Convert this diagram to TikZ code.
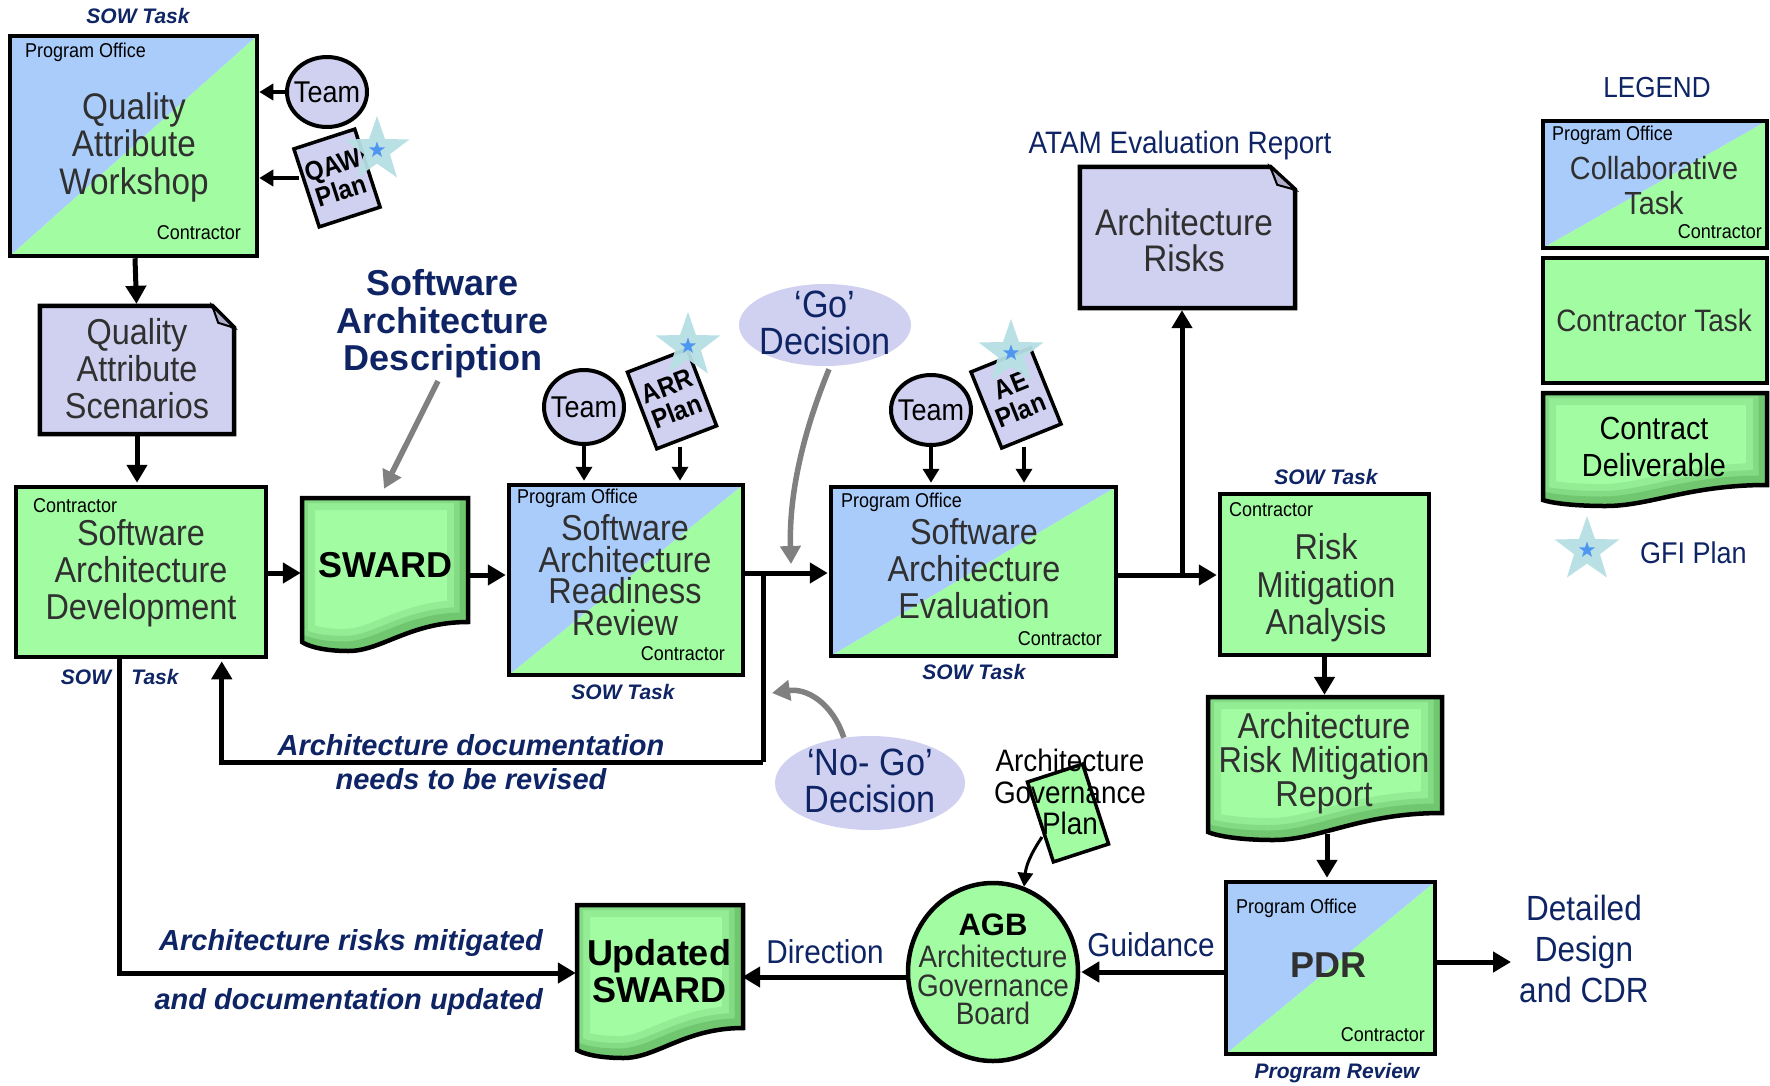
\documentclass[tikz,border=0pt]{standalone}
\usepackage{fontspec}
\setmainfont{Liberation Sans}
\newfontfamily\nf[FakeStretch=0.9]{Liberation Sans}
\newfontfamily\af{Liberation Sans}
\usetikzlibrary{arrows.meta,shapes.geometric,calc}

\definecolor{poblue}{RGB}{170,204,250}
\definecolor{ctgreen}{RGB}{162,252,162}
\definecolor{lav}{RGB}{208,208,240}
\definecolor{foldcol}{RGB}{175,175,205}
\definecolor{navy}{RGB}{14,36,100}
\definecolor{txtgray}{RGB}{48,48,48}
\definecolor{starteal}{RGB}{182,224,228}
\definecolor{starblue}{RGB}{78,150,240}
\definecolor{shadegreen}{RGB}{30,110,30}
\definecolor{arrowgray}{RGB}{128,128,128}

% outline of a deliverable: flat top, wavy bottom
% #1 left x, #2 top y, #3 right x, #4 right bottom y, #5 left bottom y, #6 lowest y of the wave
\newcommand\wavepath[6]{(#1,#2) -- (#3,#2) -- (#3,#4) .. controls ({#3-0.35*(#3-#1)},#4) and ({#1+0.48*(#3-#1)},#6) .. ({#1+0.28*(#3-#1)},#6) .. controls ({#1+0.12*(#3-#1)},#6) and ({#1+0.03*(#3-#1)},{#5+0.4*(#6-#5)}) .. (#1,#5) -- cycle}

\newcommand\wavedoc[6]{%
  \fill[ctgreen] \wavepath{#1}{#2}{#3}{#4}{#5}{#6};
  \begin{scope}
    \clip \wavepath{#1}{#2}{#3}{#4}{#5}{#6};
    \begin{scope}[shift={(-4,-5)}]
      \draw[shadegreen, opacity=0.10, line width=34] \wavepath{#1}{#2}{#3}{#4}{#5}{#6};
      \draw[shadegreen, opacity=0.14, line width=20] \wavepath{#1}{#2}{#3}{#4}{#5}{#6};
      \draw[shadegreen, opacity=0.18, line width=9] \wavepath{#1}{#2}{#3}{#4}{#5}{#6};
    \end{scope}
  \end{scope}
  \draw[line width=4.5] \wavepath{#1}{#2}{#3}{#4}{#5}{#6};}

\tikzset{
  box/.style={draw=black, line width=4.5, inner sep=0, rectangle},
  collab/.style={box, path picture={
      \fill[poblue] (path picture bounding box.north west) -- (path picture bounding box.north east)
        -- (path picture bounding box.south west) -- cycle;
      \fill[ctgreen] (path picture bounding box.north east) -- (path picture bounding box.south east)
        -- (path picture bounding box.south west) -- cycle;}},
  ctask/.style={box, fill=ctgreen},
  anchorbox/.style={inner sep=0, draw=none},
  docline/.style={draw=black, line width=4.5, fill=lav},
  maintext/.style={font=\nf\fontsize{36}{37}\selectfont, text=txtgray, align=center, inner sep=0},
  boldtext/.style={font=\af\bfseries\fontsize{36}{37}\selectfont, text=black, align=center, inner sep=0},
  small/.style={font=\nf\fontsize{20}{22}\selectfont, text=black, inner sep=0},
  sowlab/.style={font=\af\bfseries\itshape\fontsize{21}{24}\selectfont, text=navy, inner sep=0},
  note/.style={font=\af\bfseries\itshape\fontsize{29}{32}\selectfont, text=navy, inner sep=0},
  navytext/.style={font=\nf\fontsize{33}{38}\selectfont, text=navy, align=center, inner sep=0},
  team/.style={ellipse, draw=black, line width=4, fill=lav, inner sep=0,
    minimum width=80, minimum height=70, font=\nf\fontsize{30}{30}\selectfont},
  plan/.style={draw=black, line width=3.5, fill=lav, inner sep=0, align=center,
    minimum width=64, minimum height=82, font=\nf\bfseries\fontsize{27}{27}\selectfont},
  decision/.style={ellipse, fill=lav, inner sep=0},
  gfistar/.style={star, star points=5, star point ratio=2.5, fill=starteal, inner sep=0,
    minimum size=68, opacity=0.95},
  gfidot/.style={star, star points=5, star point ratio=2.5, fill=starblue, inner sep=0, minimum size=17},
  flow/.style={line width=5, -{Triangle[length=18pt,width=20pt]}},
  feed/.style={line width=3.5, -{Triangle[length=14pt,width=16pt]}},
  grayflow/.style={draw=arrowgray, line width=5.5, -{Triangle[length=18pt,width=20pt]}},
}

\begin{document}
\begin{tikzpicture}[x=1pt,y=-1pt]
\useasboundingbox (0,0) rectangle (1770,1085);
\fill[white] (0,0) rectangle (1770,1085);

% ---------- Quality Attribute Workshop ----------
\node[sowlab] (sow1) at (138,16) {SOW Task};
\node[collab, minimum width=247, minimum height=220] (qaw) at (133.5,146) {};
\node[small, anchor=west] (qawpo) at (25,52) {Program Office};
\node[small, anchor=east] (qawct) at (241,233) {Contractor};
\node[maintext, font=\nf\fontsize{37}{37.5}\selectfont] (qawtx) at (134,147) {Quality\\Attribute\\Workshop};

\node[team] (teamq) at (327,92) {\makebox[0pt]{Team}};
\node[plan, rotate=18] (qawplan) at (337,178) {QAW\\Plan};
\node[gfistar] (star1) at (377,150) {};
\node[gfidot] (star1c) at (star1) {};
\coordinate (qawplanin) at (299,178);
\draw[feed] (teamq.west) -- (teamq.west -| qaw.east);
\draw[feed] (qawplanin) -- (qawplanin -| qaw.east);

% ---------- Quality Attribute Scenarios ----------
\node[anchorbox, minimum width=194, minimum height=128] (qas) at (137,370) {};
\draw[docline] (qas.north west) -- ($(qas.north east)+(-22,0)$) -- ($(qas.north east)+(0,22)$)
  -- (qas.south east) -- (qas.south west) -- cycle;
\draw[line width=2, fill=foldcol] ($(qas.north east)+(-22,0)$) -- ($(qas.north east)+(-16,17)$)
  -- ($(qas.north east)+(0,22)$) -- cycle;
\node[maintext] (qastx) at (137,369) {Quality\\Attribute\\Scenarios};
\draw[flow] ($(qaw.south)+(1.5,0)$) -- ($(qas.north)+(-0.5,-2)$);

% ---------- Software Architecture Development ----------
\node[ctask, minimum width=250, minimum height=170] (sad) at (141,572) {};
\node[small, anchor=west] (sadct) at (33,506) {Contractor};
\node[maintext] (sadtx) at (141,573) {Software\\Architecture\\Development};
\draw[flow] (qas.south) -- ($(sad.north -| qas.south)+(0,-2)$);
\node[sowlab] (sow2a) at (86,677) {SOW};
\node[sowlab] (sow2b) at (155,677) {Task};

% ---------- SWARD ----------
\wavedoc{302}{498}{468}{622}{642}{651}
\node[anchorbox, minimum width=166, minimum height=124] (sward) at (385,560) {};
\node[boldtext] (swardtx) at (385,565) {SWARD};
\draw[flow] ($(sad.east)+(0,1)$) -- ($(sad.east -| sward.west)+(-1,1)$);

\node[font=\af\bfseries\fontsize{36}{37.5}\selectfont, text=navy, align=center, inner sep=0]
  (sadesc) at (443,324) {Software\\Architecture\\Description};
\coordinate (descfoot) at (438,381);
\draw[grayflow] (descfoot) -- ($(sward.north)+(-1,-9)$);

% ---------- Readiness Review ----------
\node[collab, minimum width=234, minimum height=190] (sarr) at (626,580) {};
\node[small, anchor=west] (sarrpo) at (517,498) {Program Office};
\node[small, anchor=east] (sarrct) at (725,654) {Contractor};
\node[maintext, font=\nf\fontsize{36}{31.5}\selectfont] (sarrtx) at (625,575)
  {Software\\Architecture\\Readiness\\Review};
\node[sowlab] (sow3) at (623,692) {SOW Task};
\draw[flow] ($(sward.east)+(0,15)$) -- ($(sarr.west |- sward.east)+(-1,15)$);

\node[team, minimum height=74] (teama) at (584,407) {\makebox[0pt]{Team}};
\node[plan, rotate=21] (arrplan) at (672,399) {ARR\\Plan};
\node[gfistar] (star2) at (688,346) {};
\node[gfidot] (star2c) at (star2) {};
\coordinate (arrfoot) at (680,447);
\draw[feed] (teama.south) -- ($(teama.south |- sarr.north)+(0,-2)$);
\draw[feed] (arrfoot) -- ($(arrfoot |- sarr.north)+(0,-2)$);

% ---------- Go / No-Go ----------
\coordinate (jgo) at (763,573);
\coordinate (jback) at (763,762);
\node[decision, minimum width=172, minimum height=82] (go) at (825,325) {};
\node[navytext, font=\nf\fontsize{38}{37}\selectfont] (gotx) at (825,323) {‘Go’\\Decision};
\draw[grayflow] ($(go.south)+(4,3)$) .. controls (800,440) and (789,500) .. ($(jgo)+(28,-9)$);

\node[decision, minimum width=190, minimum height=94] (nogo) at (870,783) {};
\node[navytext, font=\nf\fontsize{38}{37}\selectfont] (nogotx) at (870,781) {‘No- Go’\\Decision};
\draw[grayflow] (nogo.120) .. controls (832,702) and (806,688) .. ($(jgo)+(9,120)$);

\node[note] (revise1) at (471,745) {Architecture documentation};
\node[note] (revise2) at (471,779) {needs to be revised};

% ---------- Architecture Evaluation ----------
\node[collab, minimum width=285, minimum height=169] (sae) at (973.5,571.5) {};
\node[small, anchor=west] (saepo) at (841,502) {Program Office};
\node[small, anchor=east] (saect) at (1102,639) {Contractor};
\node[maintext] (saetx) at (974,569) {Software\\Architecture\\Evaluation};
\node[sowlab] (sow4) at (974,672) {SOW Task};

\node[team] (teamb) at (931,410) {\makebox[0pt]{Team}};
\node[plan, rotate=22] (aeplan) at (1016,398) {AE\\Plan};
\node[gfistar] (star3) at (1011,353) {};
\node[gfidot] (star3c) at (star3) {};
\coordinate (aefoot) at (1024,447);
\draw[feed] (teamb.south) -- ($(teamb.south |- sae.north)+(0,-2)$);
\draw[feed] (aefoot) -- ($(aefoot |- sae.north)+(0,-2)$);

\draw[flow] (sarr.east |- jgo) -- ($(jgo -| sae.west)+(-1,0)$);
\draw[line width=5] (jgo) -- (jback);
\draw[flow] (jback) -| ($(sad.south west)+(208,2)$);

% ---------- Architecture Risks ----------
\node[navytext, font=\nf\fontsize{31}{34}\selectfont] (atam) at (1180,145) {ATAM Evaluation Report};
\node[anchorbox, minimum width=215, minimum height=141] (ar) at (1187.5,237.5) {};
\draw[docline] (ar.north west) -- ($(ar.north east)+(-25,0)$) -- ($(ar.north east)+(0,23)$)
  -- (ar.south east) -- (ar.south west) -- cycle;
\draw[line width=2, fill=foldcol] ($(ar.north east)+(-25,0)$) -- ($(ar.north east)+(-18,18)$)
  -- ($(ar.north east)+(0,23)$) -- cycle;
\node[maintext, font=\nf\fontsize{37}{36}\selectfont] (artx) at (1184,240) {Architecture\\Risks};

% ---------- Risk Mitigation Analysis ----------
\node[sowlab] (sow5) at (1326,477) {SOW Task};
\node[ctask, minimum width=209, minimum height=161] (rma) at (1324.5,574.5) {};
\node[small, anchor=west] (rmact) at (1229,510) {Contractor};
\node[maintext, font=\nf\fontsize{36}{37.5}\selectfont] (rmatx) at (1326,588) {Risk\\Mitigation\\Analysis};

\coordinate (jrisk) at (1182,575);
\draw[flow] (sae.east |- jrisk) -- ($(jrisk -| rma.west)+(-1,0)$);
\draw[flow] (jrisk) -- ($(jrisk |- ar.south)+(0,2)$);

% ---------- Risk Mitigation Report ----------
\wavedoc{1208}{697}{1442}{813}{832}{840}
\node[anchorbox, minimum width=234, minimum height=116] (armr) at (1325,755) {};
\node[maintext, font=\nf\fontsize{36}{34}\selectfont] (armrtx) at (1324,763)
  {Architecture\\Risk Mitigation\\Report};
\draw[flow] (rma.south) -- ($(rma.south |- armr.north)+(0,-2)$);

% ---------- PDR ----------
\node[collab, minimum width=209, minimum height=172] (pdr) at (1330.5,968) {};
\node[small, anchor=west] (pdrpo) at (1236,908) {Program Office};
\node[small, anchor=east] (pdrct) at (1425,1035) {Contractor};
\node[font=\af\bfseries\fontsize{36}{37}\selectfont, text=txtgray, inner sep=0] (pdrtx) at (1328,965) {PDR};
\node[sowlab] (prev) at (1337,1073) {Program Review};
\coordinate (armrfoot) at (1327,834);
\draw[flow] (armrfoot) -- ($(armrfoot |- pdr.north)+(0,-2)$);

\coordinate (pdrout) at (1511,962);
\draw[flow] (pdr.east |- pdrout) -- (pdrout);
\node[navytext, font=\nf\fontsize{35}{41}\selectfont] (cdr) at (1584,949) {Detailed\\Design\\and CDR};

% ---------- Governance Board ----------
\node[ellipse, draw=black, line width=4.5, fill=ctgreen, inner sep=0,
  minimum width=170, minimum height=178] (agb) at (993,972) {};
\node[font=\af\bfseries\fontsize{31}{31}\selectfont, text=black, inner sep=0] (agbtx) at (993,925) {AGB};
\node[maintext, font=\nf\fontsize{31}{28.5}\selectfont] (agbname) at (993,985)
  {Architecture\\Governance\\Board};
\draw[flow] (pdr.west |- agb.east) -- ($(agb.east)+(1,0)$);
\node[navytext] (guid) at (1151,945) {Guidance};

\node[plan, fill=ctgreen, rotate=18, minimum width=58, minimum height=84] (agp) at (1068,813) {};
\node[font=\nf\fontsize{31}{31.5}\selectfont, text=black, align=center, inner sep=0]
  (agptx) at (1070,792) {Architecture\\Governance\\Plan};
\coordinate (agpfoot) at (1042,837);
\draw[line width=3, -{Triangle[length=14pt,width=15pt]}] (agpfoot) .. controls (1030,855) and (1026,866) .. (agb.70);

% ---------- Updated SWARD ----------
\wavedoc{577}{905}{743}{1028}{1050}{1058}
\node[anchorbox, minimum width=166, minimum height=123] (upd) at (660,966.5) {};
\node[boldtext] (updtx) at (659,971) {Updated\\SWARD};
\draw[flow] ($(agb.west)+(0,5)$) -- ($(agb.west -| upd.east)+(-1,5)$);
\node[navytext] (dirn) at (825,952) {Direction};

\draw[flow] ($(sad.south west)+(106,0)$) |- ($(upd.west)+(-1,6.5)$);
\node[note, anchor=east] (mit1) at (543,943) {Architecture risks mitigated};
\node[note, anchor=east] (mit2) at (543,1002) {and documentation updated};

% ---------- Legend ----------
\node[navytext, font=\nf\fontsize{29}{32}\selectfont] (legend) at (1657,88) {LEGEND};
\node[collab, minimum width=224, minimum height=127] (lgcollab) at (1655,184.5) {};
\node[small, anchor=west] (lgpo) at (1552,135) {Program Office};
\node[small, anchor=east] (lgct) at (1762,232) {Contractor};
\node[maintext, font=\nf\fontsize{32}{35}\selectfont] (lgcollabtx) at (1654,186) {Collaborative\\Task};

\node[ctask, minimum width=224, minimum height=125] (lgtask) at (1655,320.5) {};
\node[maintext, font=\nf\fontsize{31}{35}\selectfont] (lgtasktx) at (1654,320) {Contractor Task};

\wavedoc{1543}{393}{1767}{485}{500}{506}
\node[maintext, font=\nf\fontsize{32}{37}\selectfont, text=black] (lgdeltx) at (1654,447) {Contract\\Deliverable};

\node[gfistar] (lgstar) at (1587,550) {};
\node[gfidot] (lgstarc) at (lgstar) {};
\node[navytext, font=\nf\fontsize{30}{34}\selectfont, anchor=west] (gfi) at (1640,553) {GFI Plan};

\end{tikzpicture}
\end{document}
